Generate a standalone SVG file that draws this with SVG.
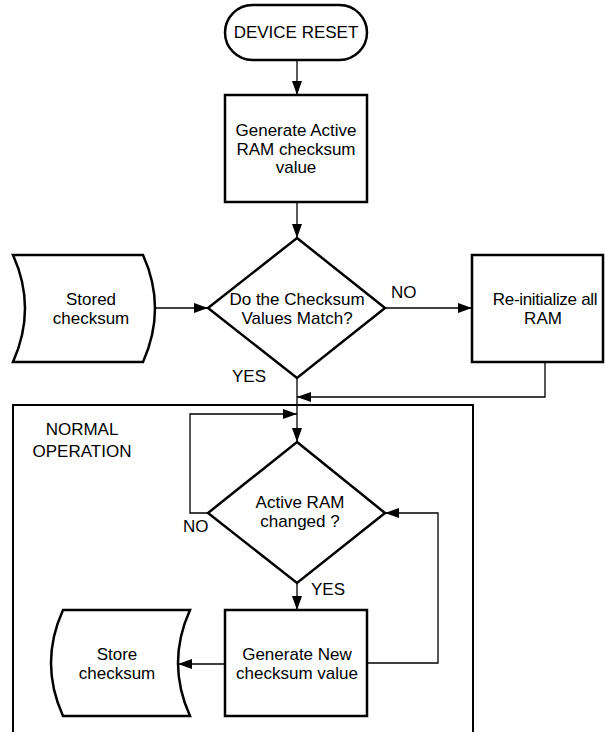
<svg xmlns="http://www.w3.org/2000/svg" width="605" height="732" viewBox="0 0 605 732">
<defs>
<marker id="ah" markerWidth="14" markerHeight="10" refX="14" refY="5" orient="auto" markerUnits="userSpaceOnUse">
<path d="M0,0 L14,5 L0,10 Z" fill="#000"/>
</marker>
<style>
.shape{fill:#fff;stroke:#000;stroke-width:2.5}
.frame{fill:none;stroke:#000;stroke-width:2}
.conn{fill:none;stroke:#000;stroke-width:1.3}
text{font-family:"Liberation Sans",Arial,sans-serif;font-size:17px;fill:#000}
.c{text-anchor:middle}
</style>
</defs>
<rect width="605" height="732" fill="#fff"/>
<g id="normal-operation">
<rect class="frame" x="13" y="405" width="460" height="340"/>
<text class="c" x="82" y="435">NORMAL</text>
<text class="c" x="82" y="457">OPERATION</text>
</g>
<g id="connectors">
<line class="conn" x1="297" y1="60" x2="297" y2="95" marker-end="url(#ah)"/>
<line class="conn" x1="297" y1="202" x2="297" y2="238" marker-end="url(#ah)"/>
<line class="conn" x1="155" y1="308" x2="208" y2="308" marker-end="url(#ah)"/>
<line class="conn" x1="385" y1="308" x2="472" y2="308" marker-end="url(#ah)"/>
<polyline class="conn" points="545,362 545,397 297,397" marker-end="url(#ah)"/>
<line class="conn" x1="297" y1="378" x2="297" y2="442" marker-end="url(#ah)"/>
<polyline class="conn" points="208,513 190,513 190,414 297,414" marker-end="url(#ah)"/>
<line class="conn" x1="297" y1="583" x2="297" y2="610" marker-end="url(#ah)"/>
<polyline class="conn" points="367,663 438,663 438,513 385,513" marker-end="url(#ah)"/>
<line class="conn" x1="225" y1="664" x2="178" y2="664" marker-end="url(#ah)"/>
<text x="391" y="298">NO</text>
<text x="232" y="382">YES</text>
<text x="183" y="532">NO</text>
<text x="311" y="595">YES</text>
</g>
<g id="device-reset">
<rect class="shape" x="225" y="5" width="142" height="55" rx="27.5"/>
<text class="c" x="296" y="38">DEVICE RESET</text>
</g>
<g id="generate-active">
<rect class="shape" x="225" y="95" width="142" height="107"/>
<text class="c" x="296" y="136">Generate Active</text>
<text class="c" x="296" y="155">RAM checksum</text>
<text class="c" x="296" y="173">value</text>
</g>
<g id="checksum-match">
<polygon class="shape" points="297,238 385,308 297,378 208,308"/>
<text class="c" x="297" y="305">Do the Checksum</text>
<text class="c" x="297" y="324">Values Match?</text>
</g>
<g id="stored-checksum">
<path class="shape" d="M13,255 L143,255 Q167,308 143,362 L13,362 Q37,308 13,255 Z"/>
<text class="c" x="91" y="305">Stored</text>
<text class="c" x="91" y="324">checksum</text>
</g>
<g id="reinitialize">
<rect class="shape" x="472" y="255" width="131" height="107"/>
<text class="c" x="545" y="305" letter-spacing="-0.3">Re-initialize all</text>
<text class="c" x="543" y="324">RAM</text>
</g>
<g id="ram-changed">
<polygon class="shape" points="297,442 385,513 297,583 208,513"/>
<text class="c" x="300" y="508">Active RAM</text>
<text class="c" x="300" y="527">changed ?</text>
</g>
<g id="generate-new">
<rect class="shape" x="225" y="610" width="142" height="106"/>
<text class="c" x="297" y="660">Generate New</text>
<text class="c" x="297" y="679">checksum value</text>
</g>
<g id="store-checksum">
<path class="shape" d="M63,610 L190,610 Q166,663 190,716 L63,716 Q39,663 63,610 Z"/>
<text class="c" x="117" y="660">Store</text>
<text class="c" x="117" y="679">checksum</text>
</g>
</svg>
